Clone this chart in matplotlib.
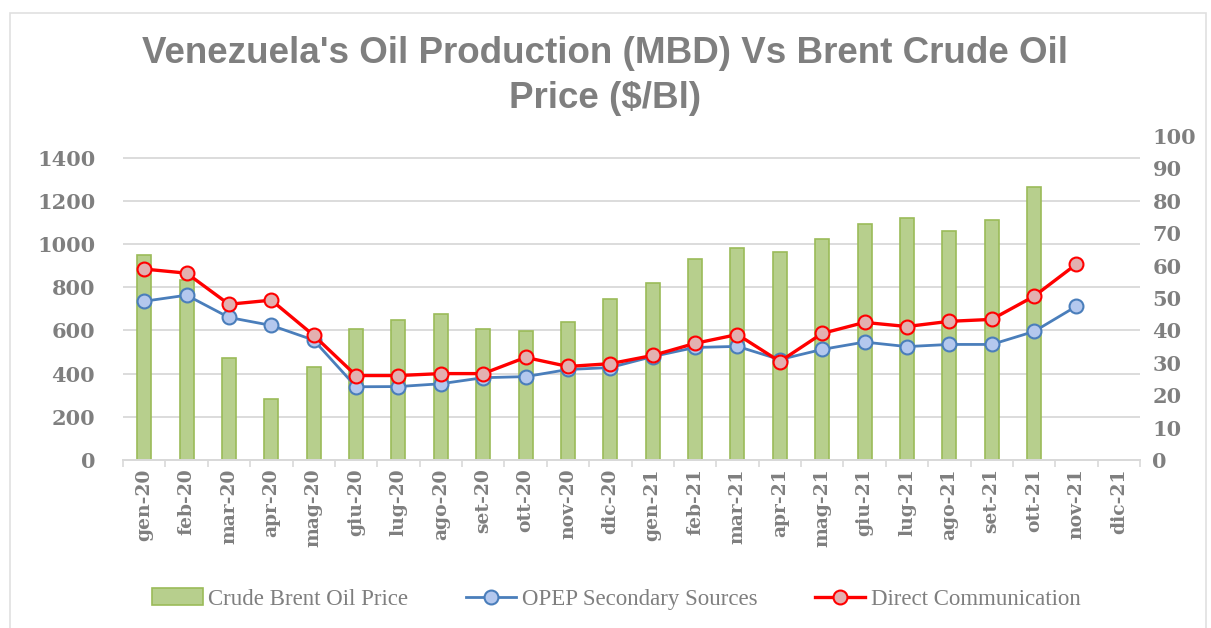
import numpy as np
import matplotlib
matplotlib.use("Agg")
import matplotlib.pyplot as plt
from matplotlib.patches import Rectangle

months = ["gen-20", "feb-20", "mar-20", "apr-20", "mag-20", "giu-20", "lug-20", "ago-20",
          "set-20", "ott-20", "nov-20", "dic-20", "gen-21", "feb-21", "mar-21", "apr-21",
          "mag-21", "giu-21", "lug-21", "ago-21", "set-21", "ott-21", "nov-21", "dic-21"]

# Brent price ($/Bl), right axis
brent = [63.4, 55.6, 31.4, 18.9, 28.6, 40.4, 43.2, 45.0, 40.4, 39.8, 42.5, 49.7,
         54.7, 62.1, 65.5, 64.3, 68.3, 72.8, 74.8, 70.8, 74.2, 84.2, np.nan, np.nan]

# production (MBD), left axis
opep_secondary = [735, 763, 660, 623, 555, 339, 340, 353, 381, 386, 419, 428,
                  479, 521, 526, 465, 512, 546, 525, 535, 535, 595, 712, np.nan]
direct_comm = [884, 865, 721, 740, 577, 391, 391, 400, 400, 475, 433, 446,
               484, 540, 581, 456, 586, 637, 618, 642, 651, 758, 907, np.nan]

left_ticks = list(range(0, 1401, 200))
right_ticks = list(range(0, 101, 10))

gray = "#7f7f7f"
grid_col = "#d9d9d9"
xfont = dict(family="DejaVu Serif", weight="bold", size=13.5, color=gray)
yfont = dict(family="DejaVu Serif", weight="bold", size=15, color=gray)

fig = plt.figure(figsize=(12.11, 6.28), dpi=100)
ax1 = fig.add_axes([123 / 1211, 168 / 628, 1017 / 1211, 324 / 628])
ax2 = ax1.twinx()

x = np.arange(len(months))

# bars on the right axis, kept behind the lines
ax2.bar(x, brent, width=0.33, color="#b7cf8d", edgecolor="#9bbb59", linewidth=1.2,
        label="Crude Brent Oil Price", zorder=2)
ax2.set_ylim(0, 100)
ax2.set_yticks(right_ticks)

ax1.set_ylim(0, 1500)
ax1.set_yticks(left_ticks)
ax1.set_xlim(-0.5, len(months) - 0.5)

# horizontal grid follows the left scale, drawn in the back axes
for v in left_ticks:
    ax2.axhline(v * 100 / 1500, color=grid_col, linewidth=1.3, zorder=0)

ax1.set_zorder(ax2.get_zorder() + 1)
ax1.patch.set_visible(False)

ax1.plot(x, opep_secondary, color="#4a7ebb", linewidth=2.0, marker="o", markersize=10,
         markerfacecolor="#b4c8ee", markeredgecolor="#4a7ebb", markeredgewidth=1.5,
         label="OPEP Secondary Sources", zorder=3)
ax1.plot(x, direct_comm, color="#ff0000", linewidth=2.4, marker="o", markersize=10,
         markerfacecolor="#e3b0b0", markeredgecolor="#ff0000", markeredgewidth=1.5,
         label="Direct Communication", zorder=4)

ax1.set_xticks(x)
ax1.set_xticklabels(months, rotation=90, **xfont)
ax1.set_xticks(np.arange(-0.5, len(months)), minor=True)
ax1.tick_params(axis="x", which="major", length=0, pad=6)
ax1.tick_params(axis="x", which="minor", length=5, color=grid_col, width=1.2)

ax1.set_yticklabels([str(v) for v in left_ticks], **yfont)
ax1.tick_params(axis="y", length=0, pad=20)
ax2.set_yticklabels([str(v) for v in right_ticks], **yfont)
ax2.tick_params(axis="y", length=0, pad=9)

for a in (ax1, ax2):
    for s in ("top", "left", "right"):
        a.spines[s].set_visible(False)
    a.spines["bottom"].set_color(grid_col)
    a.spines["bottom"].set_linewidth(1.3)

fig.text(0.5, 1 - 76 / 628, "Venezuela's Oil Production (MBD) Vs Brent Crude Oil\nPrice ($/Bl)",
         ha="center", va="center", fontsize=26.5, fontweight="bold", color=gray,
         family="Liberation Sans", linespacing=1.4)

h1, l1 = ax1.get_legend_handles_labels()
h2, l2 = ax2.get_legend_handles_labels()
leg = fig.legend(h2 + h1, l2 + l1, loc="center", bbox_to_anchor=(0.509, 29 / 628), ncol=3,
                 frameon=False, handlelength=2.2, columnspacing=2.5, handletextpad=0.25,
                 prop=dict(family="Liberation Serif", size=16.5))
for t in leg.get_texts():
    t.set_color(gray)

# light frame around the chart area
fig.patches.append(Rectangle((10 / 1211, -0.05), 1196 / 1211, 1.05 - 13 / 628, fill=False,
                             edgecolor="#e0e0e0", linewidth=1.2, transform=fig.transFigure))

fig.savefig("out.png", dpi=100)
